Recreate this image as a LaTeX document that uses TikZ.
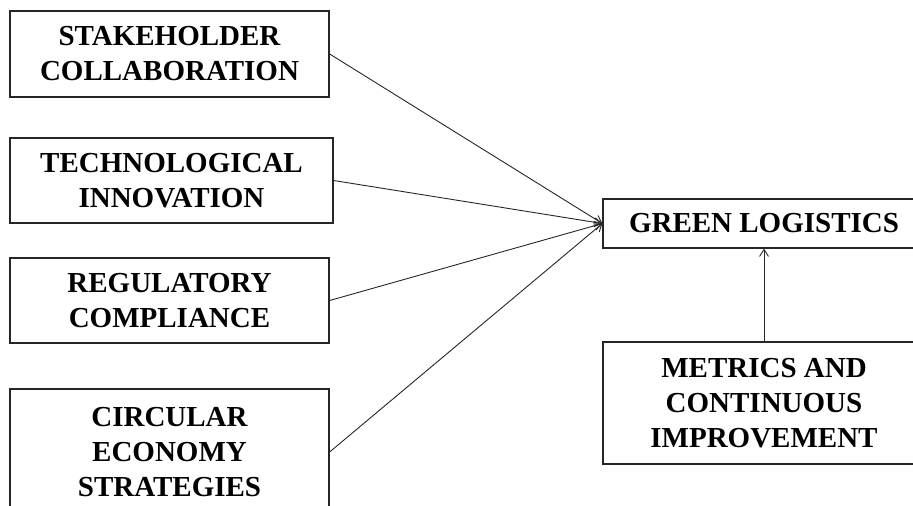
\documentclass[tikz,border=0pt]{standalone}
\usepackage{fontspec}
\setmainfont{Liberation Serif}
\usetikzlibrary{arrows.meta}
\begin{document}
\begin{tikzpicture}[x=1pt,y=-1pt,
  box/.style={draw=black!85, line width=1.3pt, align=center, inner sep=0pt,
    font=\fontsize{29}{35}\selectfont\bfseries},
  conn/.style={line width=0.9pt, draw=black!85, -{Straight Barb[length=7pt,width=9pt]}}]
\useasboundingbox (0,0) rectangle (913,506);
\clip (0,0) rectangle (913,506);
\node[box, minimum width=319pt, minimum height=86pt] (sc) at (169.5,54) {STAKEHOLDER\\COLLABORATION};
\node[box, minimum width=323pt, minimum height=85pt] (ti) at (171.5,180.5) {TECHNOLOGICAL\\INNOVATION};
\node[box, minimum width=319pt, minimum height=85pt] (rc) at (169.5,300.5) {REGULATORY\\COMPLIANCE};
\node[box, minimum width=319pt, minimum height=126pt] (ce) at (169.5,452) {CIRCULAR\\ECONOMY\\STRATEGIES};
\node[box, minimum width=322pt, minimum height=49pt] (gl) at (764,223.5) {GREEN LOGISTICS};
\node[box, minimum width=322pt, minimum height=122pt] (mc) at (764,403) {METRICS AND\\CONTINUOUS\\IMPROVEMENT};
\draw[conn] (sc.east) -- (gl.west);
\draw[conn] (ti.east) -- (gl.west);
\draw[conn] (rc.east) -- (gl.west);
\draw[conn] (ce.east) -- (gl.west);
\draw[conn] (mc.north) -- (gl.south);
\end{tikzpicture}
\end{document}
